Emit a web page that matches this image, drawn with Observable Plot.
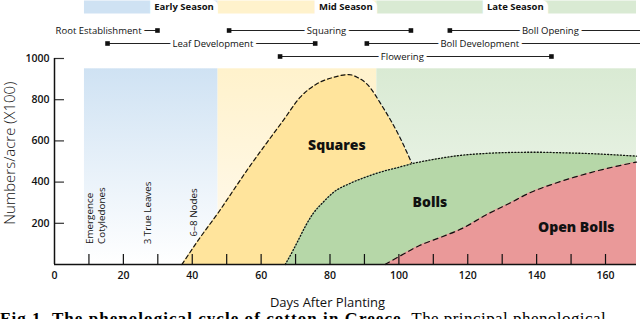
<!DOCTYPE html>
<html><head><meta charset="utf-8">
<script src="https://cdn.jsdelivr.net/npm/d3@7"></script>
<script src="https://cdn.jsdelivr.net/npm/@observablehq/plot@0.6"></script>
<style>
body{margin:0;background:#fff;}
#cap{font-family:"Liberation Serif",serif;font-size:17px;line-height:18px;white-space:nowrap;margin:0;color:#000;letter-spacing:0.45px;}
#cap b{letter-spacing:1.05px;}
</style></head><body>
<div id="chart"></div>
<div id="cap"><b>Fig 1. The phenological cycle of cotton in Greece.</b> The principal phenological</div>
<script>
// ---- data ----
const seasonNames = ["Early Season", "Mid Season", "Late Season"];
const seasonStart = [8.7, 47.5, 93.6];
const seasonEnd = [47.5, 93.6, 169];
const seasonLabelDay = [37.6, 84.6, 133.8];
const bandTop = 950;

const phaseNames = ["Root Establishment", "Squaring", "Boll Opening", "Leaf Development", "Boll Development", "Flowering"];
const phaseStart = [0, 50.7, 114.8, 15.4, 90.7, 65.5];
const phaseEnd = [29.9, 103.5, 172, 75.7, 172, 144.3];
const phaseLabelDay = [12.8, 79, 144, 46, 123.5, 101];
const phaseRow = [0, 0, 0, 1, 1, 2];

const squaresDay = [37, 42.3, 48, 51.9, 56.5, 61.7, 66.5, 71.3, 76, 80.9, 85.5, 88, 90.6, 95.4, 100.3, 103.8, 107, 110];
const squaresVal = [0, 131, 262, 359, 472, 592, 701, 811, 875, 908, 922, 908, 878, 762, 617, 490, 370, 250];

const bollsDay = [67, 69, 71, 73, 75, 78, 81, 86, 91, 96, 100, 104, 110, 117, 125, 133, 140, 148, 156, 162, 169];
const bollsVal = [0, 60, 125, 190, 245, 302, 350, 395, 428, 455, 472, 490, 510, 528, 539, 544, 545, 542, 538, 533, 526];

const openDay = [96, 100, 106, 112, 119, 125, 132, 138, 145, 151, 157, 163, 169];
const openVal = [0, 38, 92, 131, 180, 238, 296, 348, 392, 424, 452, 476, 497];

const curveLabels = ["Squares", "Bolls", "Open Bolls"];
const curveLabelDay = [82, 109, 151.5];
const curveLabelVal = [578, 301, 180];

const stageText = ["Emergence\nCotyledones", "3 True Leaves", "6\u20138 Nodes"];
const stageDay = [11.9, 27, 40.2];
const stageVal = [100, 98, 136];

const xTicks = [10, 20, 30, 40, 50, 60, 70, 80, 90, 100, 110, 120, 130, 140, 150, 160];
const xTickLabels = [0, 20, 40, 60, 80, 100, 120, 140, 160];
const yTicks = [200, 400, 600, 800, 1000];
const yTop = 1000;
const yTitleVal = 540;

// ---- styles ----
const font = "'Open Sans', sans-serif";
const swatch = ["#cfe2f3", "#fff2cc", "#d9ead3"];
const gradIds = ["gEarly", "gMid", "gLate"];
const gradStops = [["#cfe2f3", "#ffffff"], ["#fff2cc", "#fffaf0"], ["#d9ead3", "#f3f8f1"]];
const rowDy = [-28, -15, -2];

const seasons = seasonNames.map((name, i) => ({name, start: seasonStart[i], end: seasonEnd[i], label: seasonLabelDay[i]}));
const phases = phaseNames.map((name, i) => ({name, start: phaseStart[i], end: phaseEnd[i], label: phaseLabelDay[i], row: phaseRow[i]}));
const squares = squaresDay.map((day, i) => ({day, value: squaresVal[i]}));
const bolls = bollsDay.map((day, i) => ({day, value: bollsVal[i]}));
const openB = openDay.map((day, i) => ({day, value: openVal[i]}));
const labels = curveLabels.map((t, i) => ({t, day: curveLabelDay[i], value: curveLabelVal[i]}));
const stages = stageText.map((t, i) => ({t, day: stageDay[i], value: stageVal[i]}));

const marks = [];
// gradients
marks.push(() => {
  const defs = d3.create("svg:defs");
  gradIds.forEach((id, i) => {
    const g = defs.append("linearGradient").attr("id", id).attr("x1", 0).attr("y1", 0).attr("x2", 0).attr("y2", 1);
    g.append("stop").attr("offset", "0%").attr("stop-color", gradStops[i][0]);
    g.append("stop").attr("offset", "100%").attr("stop-color", gradStops[i][1]);
  });
  return defs.node();
});
// season bands
seasons.forEach((s, i) => {
  marks.push(Plot.rect([s], {x1: "start", x2: "end", y1: () => 0, y2: () => bandTop, fill: `url(#${gradIds[i]})`}));
});
// curves
const crv = "monotone-x";
marks.push(
  Plot.areaY(squares, {x: "day", y: "value", fill: "#ffe49c", curve: crv}),
  Plot.line(squares, {x: "day", y: "value", stroke: "#111", strokeWidth: 1.2, strokeDasharray: "4,3", curve: crv}),
  Plot.areaY(bolls, {x: "day", y: "value", fill: "#b6d7a8", curve: crv}),
  Plot.line(bolls, {x: "day", y: "value", stroke: "#111", strokeWidth: 1.3, strokeDasharray: "1,2.2", curve: crv}),
  Plot.areaY(openB, {x: "day", y: "value", fill: "#ea9999", curve: crv}),
  Plot.line(openB, {x: "day", y: "value", stroke: "#111", strokeWidth: 1.2, strokeDasharray: "5,4", curve: crv})
);
// ticks
marks.push(
  Plot.ruleX(xTicks, {x: d => d, insetTop: 196, stroke: "#111", strokeWidth: 1.2}),
  Plot.ruleY(yTicks, {y: d => d, insetRight: 572, stroke: "#333", strokeWidth: 1.2}),
  Plot.ruleX([0], {stroke: "#111", strokeWidth: 1.5}),
  Plot.ruleY([0], {stroke: "#111", strokeWidth: 1.5}),
  Plot.axisX(xTickLabels, {tickSize: 0, tickPadding: 7, tickFormat: d => String(d), fontSize: 10.5, fontWeight: 600, fontFamily: font, label: null}),
  Plot.axisY(yTicks, {tickSize: 0, tickPadding: 5, tickFormat: d => String(d), fontSize: 10.5, fontWeight: 600, fontFamily: font, label: null})
);
// axis titles
marks.push(
  Plot.text(["Numbers/acre (X100)"], {y: () => yTitleVal, frameAnchor: "left", textAnchor: "middle", lineAnchor: "middle", dx: -44, rotate: -90, fontSize: 15, fontWeight: 300, fontFamily: font, fill: "#111"}),
  Plot.text(["Days After Planting"], {frameAnchor: "bottom", lineAnchor: "middle", dy: 38, dx: -18, fontSize: 13, fontWeight: 400, fontFamily: font, fill: "#111"})
);
// stage annotations
marks.push(Plot.text(stages, {x: "day", y: "value", text: "t", rotate: -90, textAnchor: "start", lineAnchor: "middle", lineHeight: 1.15, fontSize: 9.8, fontWeight: 500, fontFamily: font, fill: "#111"}));
// curve labels
marks.push(Plot.text(labels, {x: "day", y: "value", text: "t", fontSize: 14, fontWeight: 800, fontFamily: font, fill: "#111"}));
// season header
seasons.forEach((s, i) => {
  marks.push(Plot.ruleY([s], {x1: "start", x2: "end", y: () => yTop, dy: -51.5, stroke: swatch[i], strokeWidth: 13}));
});
marks.push(Plot.text(seasons, {x: "label", text: "name", frameAnchor: "top", lineAnchor: "middle", dy: -51.5, fontSize: 9.5, fontWeight: 700, fontFamily: font, fill: "#111", stroke: "white", strokeWidth: 10, strokeLinejoin: "miter"}));
// phases
[0, 1, 2].forEach(r => {
  const rows = phases.filter(p => p.row === r);
  const ends = [];
  rows.forEach(p => { if (p.start > 0) ends.push({day: p.start}); if (p.end < 169) ends.push({day: p.end}); });
  marks.push(
    Plot.ruleY(rows, {x1: "start", x2: "end", y: () => yTop, dy: rowDy[r], stroke: "#222", strokeWidth: 1.1}),
    Plot.dot(ends, {x: "day", frameAnchor: "top", dy: rowDy[r], symbol: "square", r: 2.6, fill: "#111", stroke: "none"}),
    Plot.text(rows, {x: "label", text: "name", frameAnchor: "top", lineAnchor: "middle", dy: rowDy[r], fontSize: 9.5, fontWeight: 500, fontFamily: font, fill: "#111", stroke: "white", strokeWidth: 6})
  );
});

const chart = Plot.plot({
  width: 640, height: 310,
  marginTop: 58, marginBottom: 46, marginLeft: 54, marginRight: 4,
  x: {domain: [0, 169]},
  y: {domain: [0, 1000]},
  style: {fontFamily: font, background: "white", color: "#111"},
  marks
});
document.getElementById("chart").appendChild(chart);
</script>
</body></html>
